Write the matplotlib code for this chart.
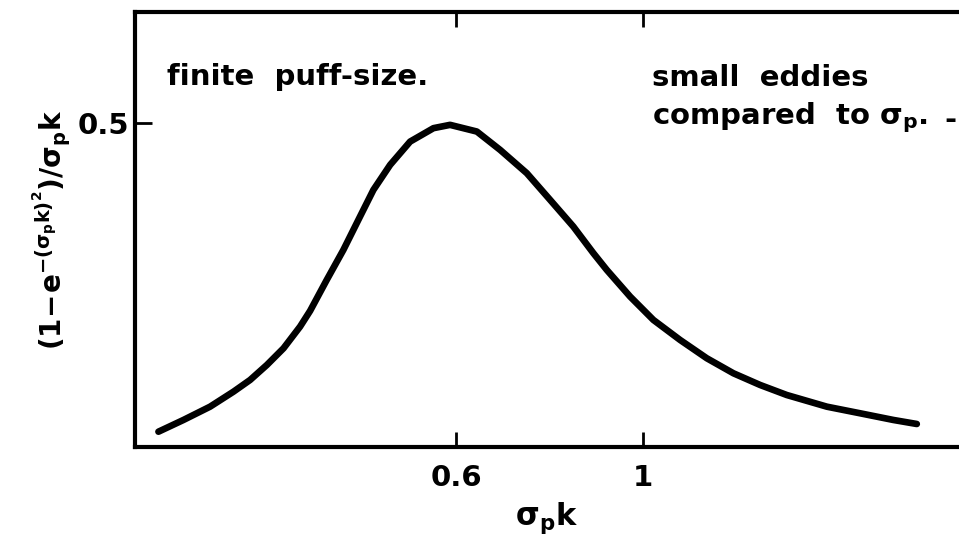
import matplotlib
matplotlib.use("Agg")
import matplotlib.pyplot as plt
from matplotlib.ticker import FixedLocator, NullLocator, FixedFormatter

plt.rcParams['font.family'] = ['DejaVu Sans']
plt.rcParams['font.weight'] = 'bold'
plt.rcParams['mathtext.fontset'] = 'dejavusans'
plt.rcParams['mathtext.default'] = 'bf'

# curve: sigma_p*k (log axis) and (1-e^{-(sigma_p k)^2})/sigma_p k
x_vals = [0.2661, 0.2849, 0.3064, 0.3266, 0.3418, 0.3578, 0.3745, 0.3918, 0.4027,
          0.4214, 0.4410, 0.4615, 0.4787, 0.5011, 0.5292, 0.5640, 0.5902, 0.6350,
          0.6767, 0.7278, 0.7757, 0.8265, 0.8731, 0.9056, 0.9652, 1.0285, 1.1064,
          1.19, 1.2799, 1.3765, 1.4806, 1.652, 1.809, 1.981, 2.112]
y_vals = [0.0236, 0.0417, 0.0622, 0.0853, 0.1034, 0.1265, 0.1523, 0.1857, 0.2100,
          0.2577, 0.304, 0.3554, 0.3966, 0.4352, 0.4711, 0.4918, 0.4969, 0.4866,
          0.4583, 0.4224, 0.3812, 0.340, 0.2989, 0.2731, 0.232, 0.196, 0.1651,
          0.1369, 0.1137, 0.0957, 0.0802, 0.0622, 0.052, 0.0417, 0.0355]
x_ticks = [0.6, 1.0]
x_tick_labels = ['0.6', '1']
y_ticks = [0.5]
y_tick_labels = ['0.5']

fig = plt.figure(figsize=(9.59, 5.41), dpi=100)
ax = fig.add_axes([135/959, 94/541, 1 - 135/959, 435/541])
ax.plot(x_vals, y_vals, color='black', lw=4.8, solid_capstyle='round',
        solid_joinstyle='round')
ax.set_xscale('log')
ax.set_xlim(0.2496, 2.37)
ax.set_ylim(0, 0.671)

ax.xaxis.set_major_locator(FixedLocator(x_ticks))
ax.xaxis.set_major_formatter(FixedFormatter(x_tick_labels))
ax.xaxis.set_minor_locator(NullLocator())
ax.yaxis.set_major_locator(FixedLocator(y_ticks))
ax.yaxis.set_major_formatter(FixedFormatter(y_tick_labels))
ax.yaxis.set_minor_locator(NullLocator())

ax.tick_params(axis='x', direction='in', length=11, width=2, top=True, bottom=True,
               labelsize=21, pad=12)
ax.tick_params(axis='y', direction='in', length=12, width=2, left=True, right=False,
               labelsize=21, pad=4)
for lab in ax.get_xticklabels() + ax.get_yticklabels():
    lab.set_fontweight('bold')

for side in ['left', 'bottom', 'top']:
    ax.spines[side].set_linewidth(3)
ax.spines['right'].set_visible(False)

ax.set_xlabel(r'$\sigma_p k$', fontsize=22, labelpad=6)
ax.set_ylabel(r'$(1\!-\!e^{-(\sigma_p k)^2})/\sigma_p k$', fontsize=20, labelpad=4)

fig.text(167/959, 1 - 77/541, 'finite  puff-size.', fontsize=21, fontweight='bold',
         va='center', ha='left')
fig.text(652/959, 1 - 78/541, 'small  eddies', fontsize=21, fontweight='bold',
         va='center', ha='left')
fig.text(652/959, 1 - 118/541, r'compared  to $\sigma_p$.', fontsize=21,
         fontweight='bold', va='center', ha='left')
fig.text(944/959, 1 - 120/541, '-', fontsize=21, fontweight='bold',
         va='center', ha='left')

fig.savefig('out.png', dpi=100)
